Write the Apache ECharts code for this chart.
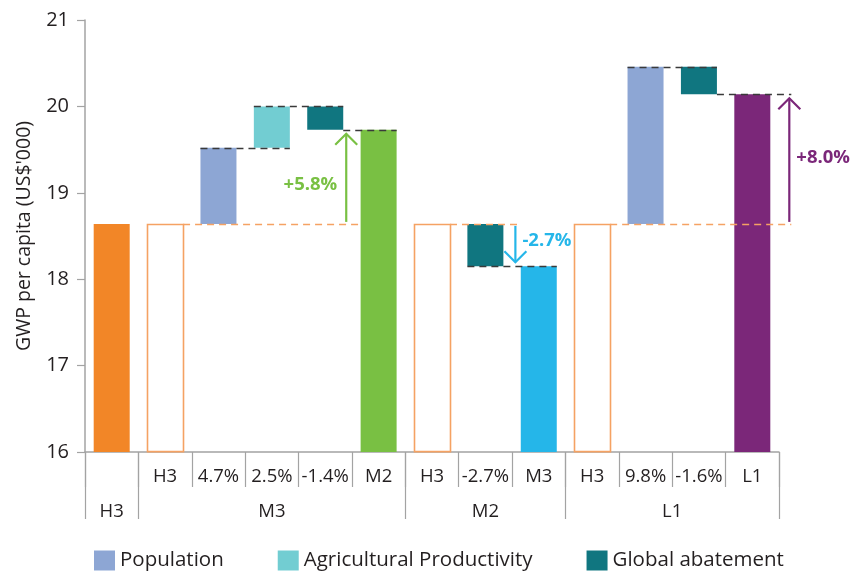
<!DOCTYPE html>
<html>
<head>
<meta charset="utf-8">
<script src="https://cdn.jsdelivr.net/npm/echarts@6/dist/echarts.min.js"></script>
<style>
  html, body { margin: 0; padding: 0; background: #fff; }
  #chart { width: 861px; height: 571px; }
</style>
</head>
<body>
<div id="chart"></div>
<script>
// ---------- DATA ----------
const categories = ['', 'H3', '4.7%', '2.5%', '-1.4%', 'M2', 'H3', '-2.7%', 'M3', 'H3', '9.8%', '-1.6%', 'L1'];
const groupNames = ['H3', 'M3', 'M2', 'L1'];
const groupSizes = [1, 5, 3, 4];
const yTicks = [16, 17, 18, 19, 20, 21];

// bars: [categoryIndex, low, high]
const h3Solid = [[0, 16, 18.64]];
const h3Outline = [[1, 16, 18.64], [6, 16, 18.64], [9, 16, 18.64]];
const population = [[2, 18.64, 19.52], [10, 18.64, 20.46]];
const agProductivity = [[3, 19.52, 20.00]];
const globalAbatement = [[4, 19.73, 20.00], [7, 18.15, 18.64], [11, 20.14, 20.46]];
const m2Total = [[5, 16, 19.73]];
const m3Total = [[8, 16, 18.15]];
const l1Total = [[12, 16, 20.14]];

// connectors: [fromBar, fromEdge, toBar, toEdge, value]  (edges: L / R of bar, A = arrow of that group)
const blackConnectors = [
  [2, 'L', 3, 'R', 19.52],
  [3, 'L', 4, 'R', 20.00],
  [4, 'R', 5, 'R', 19.73],
  [7, 'L', 8, 'R', 18.15],
  [10, 'L', 11, 'R', 20.46],
  [11, 'R', 12, 'A', 20.14]
];
const orangeConnectors = [
  [1, 'R', 5, 'L', 18.64],
  [6, 'R', 7, 'A', 18.64],
  [9, 'R', 12, 'A', 18.64]
];

// arrows
const arrowAnchorBar = [4, 7, 12];
const arrowFrom = [18.64, 18.64, 18.64];
const arrowTo = [19.73, 18.15, 20.14];
const arrowLabels = ['+5.8%', '-2.7%', '+8.0%'];

// ---------- STYLE ----------
const FONT = '"Open Sans", "Noto Sans", sans-serif';
const TXT = '#231f20';
const AXIS = '#a3a3a3';
const BAR_W = 36;
const C = {
  orange: '#f28627', orangeLine: '#f5a263', pop: '#8da6d4', ag: '#72cdd2', abat: '#107680',
  m2: '#79c043', m3: '#25b6e9', l1: '#7b2779', dash: '#3a3a3a'
};
const arrowColors = [C.m2, C.m3, C.l1];
const arrowGap = [3, 12, 19];        // px right of anchor bar
const arrowLabelSide = ['left', 'right', 'right'];
const arrowLabelDy = [8, -4, -1];

// ---------- BUILD ----------
const groupBounds = [0];
groupSizes.forEach(s => groupBounds.push(groupBounds[groupBounds.length - 1] + s));
const groupCenters = groupSizes.map((s, k) => groupBounds[k] + s / 2);

function barRender(params, api) {
  const i = api.value(0);
  const top = api.coord([i, api.value(2)]);
  const bot = api.coord([i, api.value(1)]);
  return {
    type: 'rect',
    shape: { x: top[0] - BAR_W / 2, y: top[1], width: BAR_W, height: bot[1] - top[1] },
    style: api.style()
  };
}
function outlineRender(params, api) {
  const i = api.value(0);
  const top = api.coord([i, api.value(2)]);
  const bot = api.coord([i, api.value(1)]);
  return {
    type: 'rect',
    shape: { x: Math.round(top[0] - BAR_W / 2) + 0.5, y: Math.round(top[1]) + 0.5, width: BAR_W, height: bot[1] - top[1] - 1 },
    style: { fill: '#fff', stroke: C.orangeLine, lineWidth: 1.6 }
  };
}

function barSeries(name, data, color, z) {
  return {
    type: 'custom', name: name, data: data, renderItem: barRender,
    encode: { x: 0, y: [1, 2] }, itemStyle: { color: color }, z: z || 2, silent: true
  };
}

function overlayRender(params, api) {
  if (params.dataIndex !== 0) return;
  const children = [];
  const cx = i => api.coord([i, 16])[0];
  const yy = v => api.coord([0, v])[1];
  const arrowX = bar => cx(bar) + BAR_W / 2 + arrowGap[arrowAnchorBar.indexOf(bar)];
  const edge = (bar, e) => e === 'L' ? cx(bar) - BAR_W / 2 : (e === 'R' ? cx(bar) + BAR_W / 2 : arrowX(bar) + 2);

  orangeConnectors.forEach(c => {
    const y = Math.round(yy(c[4])) + 0.5;
    children.push({ type: 'line', shape: { x1: edge(c[0], c[1]), y1: y, x2: edge(c[2], c[3]), y2: y },
      style: { stroke: C.orangeLine, lineWidth: 1.5, lineDash: [7, 5] } });
  });
  blackConnectors.forEach(c => {
    const y = Math.round(yy(c[4])) + 0.5;
    children.push({ type: 'line', shape: { x1: edge(c[0], c[1]), y1: y, x2: edge(c[2], c[3]), y2: y },
      style: { stroke: C.dash, lineWidth: 1.5, lineDash: [7, 5] } });
  });
  arrowAnchorBar.forEach((bar, k) => {
    const x = arrowX(bar);
    const y0 = yy(arrowFrom[k]);
    const y1 = yy(arrowTo[k]);
    const dir = y1 < y0 ? -1 : 1;
    const ys = y0 + dir * 2;
    const ye = y1 - dir * 4;
    const col = arrowColors[k];
    children.push({ type: 'line', shape: { x1: x, y1: ys, x2: x, y2: ye }, style: { stroke: col, lineWidth: 2.2 } });
    children.push({ type: 'polyline', shape: { points: [[x - 11, ye - dir * 11], [x, ye], [x + 11, ye - dir * 11]] },
      style: { stroke: col, lineWidth: 2.2, fill: null } });
    const side = arrowLabelSide[k];
    children.push({ type: 'text', style: {
      text: arrowLabels[k], x: side === 'left' ? x - 9 : x + 7, y: (y0 + y1) / 2 + arrowLabelDy[k],
      align: side === 'left' ? 'right' : 'left', verticalAlign: 'middle',
      fill: col, font: 'bold 18.5px ' + FONT } });
  });
  return { type: 'group', children: children };
}

const option = {
  animation: false,
  backgroundColor: '#fff',
  grid: { left: 85, right: 82, top: 20, bottom: 119, containLabel: false },
  legend: {
    data: ['Population', 'Agricultural Productivity', 'Global abatement'],
    left: 89, top: 545, icon: 'rect', itemWidth: 21, itemHeight: 20, itemGap: 54,
    textStyle: { fontSize: 20.5, color: TXT, fontFamily: FONT }
  },
  xAxis: [
    {
      type: 'category', data: categories, position: 'bottom',
      axisLine: { show: true, lineStyle: { color: AXIS, width: 1.5 } },
      axisTick: { show: true, interval: 0, length: 35, lineStyle: { color: AXIS, width: 1.2 } },
      axisLabel: { interval: 0, fontSize: 18.5, color: TXT, fontFamily: FONT, margin: 15 },
      splitLine: { show: false }
    },
    {
      type: 'value', min: 0, max: categories.length, position: 'bottom',
      axisLine: { show: false },
      axisTick: { show: true, length: 67, customValues: groupBounds, lineStyle: { color: AXIS, width: 1.2 } },
      axisLabel: {
        show: true, customValues: groupCenters, fontSize: 18.5, color: TXT, fontFamily: FONT, margin: 50,
        formatter: v => { const k = groupCenters.indexOf(v); return k >= 0 ? groupNames[k] : ''; }
      },
      splitLine: { show: false }
    }
  ],
  yAxis: {
    type: 'value', min: 16, max: 21, interval: 1,
    name: "GWP per capita (US$'000)", nameLocation: 'middle', nameGap: 51,
    nameTextStyle: { fontSize: 19.5, color: TXT, fontFamily: FONT },
    axisLine: { show: true, lineStyle: { color: AXIS, width: 1.5 } },
    axisTick: { show: true, length: 8, lineStyle: { color: AXIS, width: 1.2 } },
    axisLabel: { fontSize: 20, color: TXT, fontFamily: FONT, margin: 16,
      customValues: yTicks },
    splitLine: { show: false }
  },
  series: [
    barSeries('H3', h3Solid, C.orange),
    { type: 'custom', name: 'H3 outline', data: h3Outline, renderItem: outlineRender,
      encode: { x: 0, y: [1, 2] }, itemStyle: { color: C.orangeLine }, silent: true },
    barSeries('Population', population, C.pop),
    barSeries('Agricultural Productivity', agProductivity, C.ag),
    barSeries('Global abatement', globalAbatement, C.abat),
    barSeries('M2', m2Total, C.m2),
    barSeries('M3', m3Total, C.m3),
    barSeries('L1', l1Total, C.l1),
    { type: 'custom', name: 'annotations', data: [[0, 18]], renderItem: overlayRender,
      encode: { x: 0, y: 1 }, silent: true, z: 5, clip: false }
  ]
};

const chart = echarts.init(document.getElementById('chart'), null, { renderer: 'canvas' });
chart.setOption(option);
</script>
</body>
</html>
